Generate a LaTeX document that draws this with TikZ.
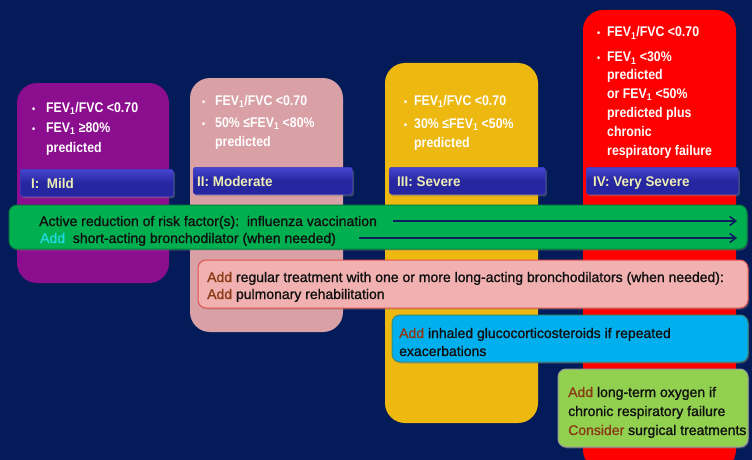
\documentclass[tikz,border=0pt]{standalone}
\usepackage{fontspec}
\setmainfont{Liberation Sans}
\newfontfamily\colfont[FakeStretch=0.88]{Liberation Sans Bold}
\newfontfamily\labfont[FakeStretch=0.96]{Liberation Sans Bold}
\newfontfamily\barfont[FakeBold=1.2]{Liberation Sans}
\usetikzlibrary{arrows.meta,shadows}
\definecolor{bg}{HTML}{031B58}
\definecolor{cpurple}{HTML}{8B0E8F}
\definecolor{cpink}{HTML}{D9A0A6}
\definecolor{cyellow}{HTML}{EDB80F}
\definecolor{cred}{HTML}{FF0000}
\definecolor{bgreen}{HTML}{00B050}
\definecolor{bgreenedge}{HTML}{00803C}
\definecolor{bpink}{HTML}{F2B1B1}
\definecolor{bpinkedge}{HTML}{E0504A}
\definecolor{bblue}{HTML}{00B0EE}
\definecolor{bblueedge}{HTML}{3A8A7A}
\definecolor{blgreen}{HTML}{92D050}
\definecolor{blgreenedge}{HTML}{9A9A9A}
\definecolor{labfill}{HTML}{2626A0}
\definecolor{labtop}{HTML}{4646D0}
\definecolor{labedge}{HTML}{3A3AC0}
\definecolor{labtext}{HTML}{EEEEB4}
\definecolor{addcyan}{HTML}{22D8E0}
\definecolor{addbrown}{HTML}{8A3A14}
\definecolor{arrowc}{HTML}{0B1F5E}
\definecolor{bartext}{HTML}{101010}
\tikzset{
  colbox/.style={rounded corners=20pt},
  colt/.style={anchor=base west, text=white, inner sep=0pt, font=\colfont\fontsize{14}{16}\selectfont},
  bul/.style={anchor=base west, text=white, inner sep=0pt, font=\colfont\fontsize{10}{15}\selectfont},
  labbox/.style={top color=labtop, bottom color=labfill, middle color=labfill, draw=labedge, line width=0.6pt, rounded corners=2.5pt,
    drop shadow={shadow xshift=1.5pt, shadow yshift=-2pt, opacity=0.45}},
  labt/.style={anchor=base west, text=labtext, inner sep=0pt, font=\labfont\fontsize{14}{16}\selectfont},
  barbox/.style={rounded corners=8pt, line width=1pt,
    drop shadow={shadow xshift=1pt, shadow yshift=-1.5pt, opacity=0.4}},
  bart/.style={anchor=base west, text=bartext, inner sep=0pt, font=\barfont\fontsize{14}{16}\selectfont},
  arrowline/.style={draw=arrowc, line width=1.6pt, -{Straight Barb[length=6pt,width=9pt,line width=1.6pt]}}
}
\newcommand{\Fone}{FEV\textsubscript{1}}
\begin{document}
\begin{tikzpicture}[x=1pt,y=-1pt]
\useasboundingbox (0,0) rectangle (752,460);
\clip (0,0) rectangle (752,460);
\fill[bg] (0,0) rectangle (752,460);

% stage columns
\fill[cpurple, colbox] (17,83) rectangle (169,283);
\fill[cpink, colbox] (190,78) rectangle (343,332);
\fill[cyellow, colbox] (385,63) rectangle (538,423);
\fill[cred, colbox] (583,10) rectangle (736,470);

% column texts
\node[bul] (p1b) at (32,112) {•};
\node[colt] (p1a) at (46,112) {\Fone/FVC <0.70};
\node[bul] (p2b) at (32,132) {•};
\node[colt] (p2a) at (46,132) {\Fone{} ≥80\%};
\node[colt] (p3a) at (46,152) {predicted};

\node[bul] (m1b) at (202,105) {•};
\node[colt] (m1a) at (215,105) {\Fone/FVC <0.70};
\node[bul] (m2b) at (202,127) {•};
\node[colt] (m2a) at (215,127) {50\% ≤\Fone{} <80\%};
\node[colt] (m3a) at (215,146) {predicted};

\node[bul] (s1b) at (404,105) {•};
\node[colt] (s1a) at (414,105) {\Fone/FVC <0.70};
\node[bul] (s2b) at (404,128) {•};
\node[colt] (s2a) at (414,128) {30\% ≤\Fone{} <50\%};
\node[colt] (s3a) at (414,147) {predicted};

\node[bul] (v1b) at (597,37) {•};
\node[colt] (v1a) at (607,37) {\Fone/FVC <0.70};
\node[bul] (v2b) at (597,62) {•};
\node[colt] (v2a) at (607,62) {\Fone{} <30\%};
\node[colt] (v3a) at (607,80) {predicted};
\node[colt] (v4a) at (607,98) {or \Fone{} <50\%};
\node[colt] (v5a) at (607,117) {predicted plus};
\node[colt] (v6a) at (607,136) {chronic};
\node[colt] (v7a) at (607,155) {respiratory failure};

% stage labels
\node[labbox, minimum width=153pt, minimum height=27pt, anchor=north west] (l1) at (20,169) {};
\node[labt] (l1t) at (31,188) {I:\ \ Mild};
\node[labbox, minimum width=159pt, minimum height=27pt, anchor=north west] (l2) at (193,167) {};
\node[labt] (l2t) at (197,186) {II: Moderate};
\node[labbox, minimum width=156pt, minimum height=27pt, anchor=north west] (l3) at (389,167) {};
\node[labt] (l3t) at (397,186) {III: Severe};
\node[labbox, minimum width=152pt, minimum height=27pt, anchor=north west] (l4) at (586,167) {};
\node[labt] (l4t) at (593,186) {IV: Very Severe};

% treatment bars
\filldraw[fill=bgreen, draw=bgreenedge, barbox] (9,205) rectangle (747,249);
\node[bart] (g1) at (39,226) {Active reduction of risk factor(s):\ \ influenza vaccination};
\node[bart] (g2) at (40,243) {\textcolor{addcyan}{Add}\ \ short-acting bronchodilator (when needed)};
\coordinate (a1s) at (393,221);
\coordinate (a1e) at (737,221);
\coordinate (a2s) at (359,238);
\coordinate (a2e) at (737,238);
\draw[arrowline] (a1s) -- (a1e);
\draw[arrowline] (a2s) -- (a2e);

\filldraw[fill=bpink, draw=bpinkedge, barbox] (198,260) rectangle (748,308);
\node[bart] (k1) at (207,282) {\textcolor{addbrown}{Add} regular treatment with one or more long-acting bronchodilators (when needed):};
\node[bart] (k2) at (207,299) {\textcolor{addbrown}{Add} pulmonary rehabilitation};

\filldraw[fill=bblue, draw=bblueedge, barbox] (392,315) rectangle (748,362);
\node[bart] (b1) at (399,338) {\textcolor{addbrown}{Add} inhaled glucocorticosteroids if repeated};
\node[bart] (b2) at (399,356) {exacerbations};

\filldraw[fill=blgreen, draw=blgreenedge, barbox] (558,369) rectangle (748,447);
\node[bart] (o1) at (568,397) {\textcolor{addbrown}{Add} long-term oxygen if};
\node[bart] (o2) at (568,416) {chronic respiratory failure};
\node[bart] (o3) at (568,435) {\textcolor{addbrown}{Consider} surgical treatments};
\end{tikzpicture}
\end{document}
